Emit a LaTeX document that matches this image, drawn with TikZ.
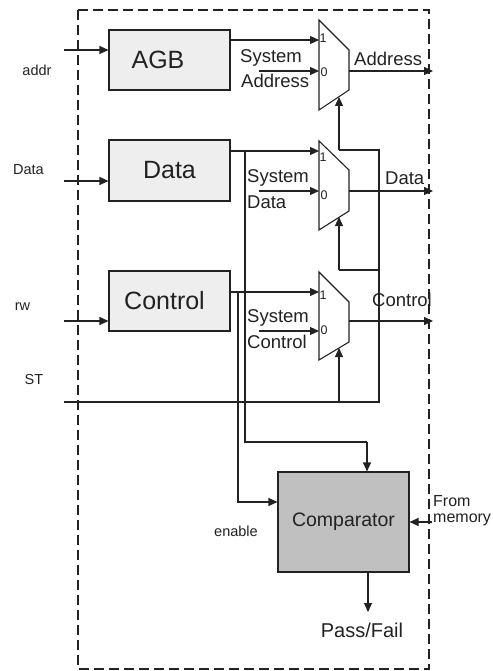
\documentclass[tikz,border=0pt]{standalone}
\usepackage{fontspec}
\setmainfont{Liberation Sans}
\usetikzlibrary{arrows.meta}
\definecolor{ink}{HTML}{222222}
\definecolor{boxfill}{HTML}{EEEEEE}
\definecolor{cmpfill}{HTML}{C0C0C0}
\tikzset{
  wire/.style={draw=ink, line width=1.1pt},
  arr/.style={wire, -{Triangle[length=9pt,width=8pt]}},
  blk/.style={draw=ink, line width=1.1pt, fill=boxfill, minimum width=121pt, minimum height=60pt, inner sep=0pt, font=\fontsize{25}{25}\selectfont, text=ink},
  lbl/.style={inner sep=0pt, text=ink, font=\fontsize{14.5}{14.5}\selectfont},
  mlbl/.style={inner sep=0pt, text=ink, font=\fontsize{18.5}{18.5}\selectfont, anchor=west},
  pin/.style={inner sep=0pt, text=ink, font=\fontsize{12.5}{12.5}\selectfont},
  muxshape/.style={draw=ink, line width=1.1pt, fill=white}
}
\begin{document}
\begin{tikzpicture}[x=1pt,y=-1pt]
\useasboundingbox (0,0) rectangle (492,671);
\fill[white] (0,0) rectangle (492,671);
% frame
\draw[ink, line width=1.3pt, dash pattern=on 10pt off 5pt] (78,10) rectangle (429,669);
% blocks
\node[blk] (agb) at (169.5,60) {\kern-23pt AGB};
\node[blk, minimum height=61pt] (data) at (169.5,170.5) {Data};
\node[blk] (ctrl) at (169.5,301) {\kern-10pt Control};
\node[blk, fill=cmpfill, minimum width=131pt, minimum height=100pt, font=\fontsize{19.5}{19.5}\selectfont] (cmp) at (343.5,522) {Comparator};
% muxes
\draw[muxshape] (319,20) -- (349,50) -- (349,90) -- (319,110) -- cycle;
\draw[muxshape] (319,141) -- (349,170) -- (349,211) -- (319,230) -- cycle;
\draw[muxshape] (319,272) -- (349,302) -- (349,342) -- (319,360) -- cycle;
\coordinate (m1i1) at (319,40);
\coordinate (m1i0) at (319,71);
\coordinate (m1o) at (349,71);
\coordinate (m1s) at (339,97);
\coordinate (m2i1) at (319,151);
\coordinate (m2i0) at (319,191);
\coordinate (m2o) at (349,191);
\coordinate (m2s) at (339,217);
\coordinate (m3i1) at (319,292);
\coordinate (m3i0) at (319,331);
\coordinate (m3o) at (349,321);
\coordinate (m3s) at (339,348);
\node[pin] (p11) at (323,38) {1};
\node[pin] (p10) at (324,72) {0};
\node[pin] (p21) at (323,157) {1};
\node[pin] (p20) at (324,195) {0};
\node[pin] (p31) at (323,295) {1};
\node[pin] (p30) at (324,330) {0};
% external inputs
\coordinate (addrin) at (64,50);
\coordinate (datain) at (64,181);
\coordinate (rwin) at (64,321);
\coordinate (stin) at (64,402);
\node[lbl] (addrl) at (37,70) {addr};
\node[lbl] (datal) at (28.5,170) {Data};
\node[lbl] (rwl) at (22.5,307) {rw};
\node[lbl] (stl) at (34,380) {ST};
\draw[arr] (addrin) -- (addrin -| agb.west);
\draw[arr] (datain) -- (datain -| data.west);
\draw[arr] (rwin) -- (rwin -| ctrl.west);
% block outputs to mux inputs
\draw[arr] (agb.east |- m1i1) -- (m1i1);
\draw[arr] (data.east |- m2i1) -- (m2i1);
\draw[arr] (ctrl.east |- m3i1) -- (m3i1);
% system inputs
\coordinate (s1) at (259,71);
\coordinate (s2) at (259,191);
\coordinate (s3) at (259,331);
\draw[arr] (s1) -- (m1i0);
\draw[arr] (s2) -- (m2i0);
\draw[arr] (s3) -- (m3i0);
\node[mlbl] (sys1) at (240,58) {System};
\node[mlbl] (sa1) at (241,81) {Address};
\node[mlbl] (sys2) at (247,178) {System};
\node[mlbl] (sa2) at (247,202) {Data};
\node[mlbl] (sys3) at (247,318) {System};
\node[mlbl] (sa3) at (247,342) {Control};
% outputs
\coordinate (o1) at (433,71);
\coordinate (o2) at (433,191);
\coordinate (o3) at (433,321);
\draw[arr] (m1o) -- (o1);
\draw[arr] (m2o) -- (o2);
\draw[arr] (m3o) -- (o3);
\node[mlbl] (ol1) at (354,59) {Address};
\node[mlbl] (ol2) at (385,178) {Data};
\node[mlbl] (ol3) at (372,300) {Control};
% ST select network
\coordinate (stj) at (379,402);
\coordinate (st1) at (379,150);
\coordinate (st2) at (379,270);
\draw[wire] (stin) -- (stj) -- (st1) -- (st1 -| m1s);
\draw[arr] (st1 -| m1s) -- (m1s);
\draw[wire] (st2) -- (st2 -| m2s);
\draw[arr] (st2 -| m2s) -- (m2s);
\draw[arr] (stin -| m3s) -- (m3s);
% branches to comparator
\coordinate (db) at (245,151);
\coordinate (db2) at (245,442);
\coordinate (cb) at (238,292);
\coordinate (cb2) at (238,502);
\draw[wire] (db) -- (db2) -- (db2 -| 367,0);
\draw[arr] (367,442) -- (367,0 |- cmp.north);
\draw[arr] (cb) -- (cb2) -- (cb2 -| cmp.west);
\node[lbl] (en) at (236,531) {enable};
% from memory
\coordinate (mem) at (432,522);
\draw[arr] (mem) -- (cmp.east);
\node[lbl, anchor=west, font=\fontsize{16}{16}\selectfont] (fr) at (433,501) {From};
\node[lbl, anchor=west, font=\fontsize{16}{16}\selectfont] (me) at (433,520) {memory};
% pass/fail
\coordinate (pf) at (368,612);
\draw[arr] (368,0 |- cmp.south) -- (pf);
\node[lbl, font=\fontsize{20}{20}\selectfont] (pfl) at (362,630) {Pass/Fail};
\end{tikzpicture}
\end{document}
